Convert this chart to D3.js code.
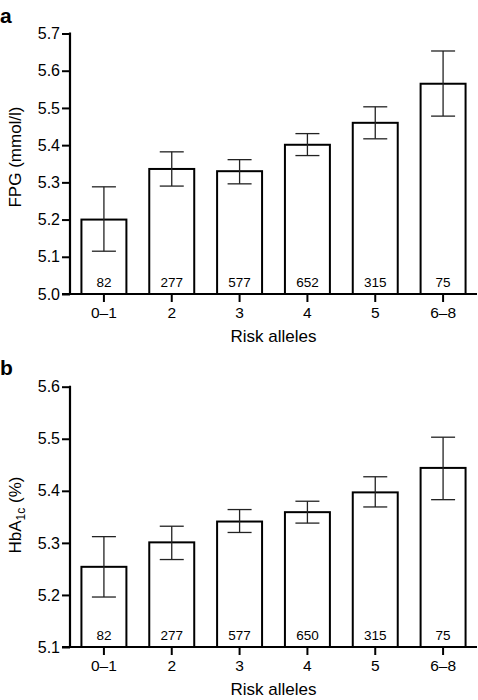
<!DOCTYPE html>
<html>
<head>
<meta charset="utf-8">
<script src="https://cdn.jsdelivr.net/npm/d3@7"></script>
<style>
  html, body { margin: 0; padding: 0; background: #fff; }
  svg { display: block; font-family: "Liberation Sans", Arial, Helvetica, sans-serif; }
</style>
</head>
<body>
<svg id="chart" width="478" height="700"></svg>
<script>
// ---- Data ----
const categories = ["0\u20131", "2", "3", "4", "5", "6\u20138"];

// Panel a: FPG (mmol/l)
const fpgMean  = [5.200, 5.336, 5.330, 5.401, 5.460, 5.565];
const fpgLow   = [5.115, 5.290, 5.296, 5.372, 5.417, 5.478];
const fpgHigh  = [5.288, 5.382, 5.361, 5.431, 5.503, 5.653];
const fpgN     = [82, 277, 577, 652, 315, 75];
const fpgTicks = [5.0, 5.1, 5.2, 5.3, 5.4, 5.5, 5.6, 5.7];

// Panel b: HbA1c (%)
const hbaMean  = [5.254, 5.301, 5.341, 5.359, 5.397, 5.444];
const hbaLow   = [5.196, 5.268, 5.320, 5.338, 5.369, 5.383];
const hbaHigh  = [5.312, 5.332, 5.364, 5.380, 5.427, 5.503];
const hbaN     = [82, 277, 577, 650, 315, 75];
const hbaTicks = [5.1, 5.2, 5.3, 5.4, 5.5, 5.6];

const xTitle = "Risk alleles";

// ---- Drawing ----
const svg = d3.select("#chart");

function panel(opts) {
  const g = svg.append("g");
  const left = 70, right = 477;
  const x = d3.scaleBand().domain(categories).range([left, right])
    .paddingInner(0.337).paddingOuter(0.1685);
  const y = d3.scaleLinear().domain(opts.domain).range([opts.bottom, opts.top]);

  const rows = categories.map((c, i) => ({
    c, mean: opts.mean[i], lo: opts.low[i], hi: opts.high[i], n: opts.n[i]
  }));

  // bars
  g.selectAll("rect.bar").data(rows).join("rect")
    .attr("class", "bar")
    .attr("x", d => x(d.c))
    .attr("width", x.bandwidth())
    .attr("y", d => y(d.mean))
    .attr("height", d => y(opts.domain[0]) - y(d.mean))
    .attr("fill", "#fff")
    .attr("stroke", "#000")
    .attr("stroke-width", 2);

  // error bars
  const capW = 24;
  const eb = g.selectAll("g.err").data(rows).join("g").attr("class", "err")
    .attr("stroke", "#222").attr("stroke-width", 1.3).attr("fill", "none");
  eb.append("line")
    .attr("x1", d => x(d.c) + x.bandwidth() / 2)
    .attr("x2", d => x(d.c) + x.bandwidth() / 2)
    .attr("y1", d => y(d.lo)).attr("y2", d => y(d.hi));
  eb.append("line")
    .attr("x1", d => x(d.c) + x.bandwidth() / 2 - capW / 2)
    .attr("x2", d => x(d.c) + x.bandwidth() / 2 + capW / 2)
    .attr("y1", d => y(d.hi)).attr("y2", d => y(d.hi));
  eb.append("line")
    .attr("x1", d => x(d.c) + x.bandwidth() / 2 - capW / 2)
    .attr("x2", d => x(d.c) + x.bandwidth() / 2 + capW / 2)
    .attr("y1", d => y(d.lo)).attr("y2", d => y(d.lo));

  // counts
  g.selectAll("text.n").data(rows).join("text")
    .attr("class", "n")
    .attr("x", d => x(d.c) + x.bandwidth() / 2)
    .attr("y", y(opts.domain[0]) - 7)
    .attr("text-anchor", "middle")
    .attr("font-size", 13.5)
    .attr("fill", "#000")
    .text(d => d.n);

  // y axis
  const yAxis = g.append("g")
    .attr("transform", `translate(${left},0)`)
    .call(d3.axisLeft(y).tickValues(opts.ticks).tickFormat(d3.format(".1f"))
      .tickSize(8).tickSizeOuter(0).tickPadding(2));
  yAxis.select(".domain").attr("stroke", "#000").attr("stroke-width", 2.2)
    .attr("d", `M0,${opts.bottom}V${opts.top - 1}`);
  yAxis.selectAll(".tick line").attr("stroke", "#000").attr("stroke-width", 2);
  yAxis.selectAll(".tick text").attr("font-size", 16).attr("fill", "#000")
    .attr("font-family", "Liberation Sans, Arial, sans-serif");

  // x axis
  const xAxis = g.append("g")
    .attr("transform", `translate(0,${opts.bottom})`)
    .call(d3.axisBottom(x).tickSize(8).tickSizeOuter(0).tickPadding(5));
  xAxis.select(".domain").attr("stroke", "#000").attr("stroke-width", 2.2)
    .attr("d", `M${left - 8},0H${right}`);
  xAxis.selectAll(".tick line").attr("stroke", "#000").attr("stroke-width", 2);
  xAxis.selectAll(".tick text").attr("font-size", 15.5).attr("fill", "#000")
    .attr("font-family", "Liberation Sans, Arial, sans-serif");

  // x title
  g.append("text")
    .attr("x", (left + right) / 2)
    .attr("y", opts.bottom + 48)
    .attr("text-anchor", "middle")
    .attr("font-size", 17)
    .attr("fill", "#000")
    .text(xTitle);

  // y title
  const yt = g.append("text")
    .attr("transform", `translate(21,${opts.yTitleCenter}) rotate(-90)`)
    .attr("text-anchor", "middle")
    .attr("font-size", 17)
    .attr("fill", "#000");
  opts.yTitle(yt);

  // panel letter
  g.append("text")
    .attr("x", 0)
    .attr("y", opts.letterY)
    .attr("font-size", 21)
    .attr("font-weight", "bold")
    .attr("fill", "#000")
    .text(opts.letter);
}

panel({
  domain: [5.0, 5.7], top: 33.5, bottom: 294,
  mean: fpgMean, low: fpgLow, high: fpgHigh, n: fpgN, ticks: fpgTicks,
  yTitleCenter: 157, letter: "a", letterY: 23,
  yTitle: t => t.text("FPG (mmol/l)")
});

panel({
  domain: [5.1, 5.6], top: 386.7, bottom: 647,
  mean: hbaMean, low: hbaLow, high: hbaHigh, n: hbaN, ticks: hbaTicks,
  yTitleCenter: 515, letter: "b", letterY: 375,
  yTitle: t => {
    t.append("tspan").text("HbA");
    t.append("tspan").attr("font-size", 12).attr("dy", 4).text("1c");
    t.append("tspan").attr("dy", -4).text(" (%)");
  }
});
</script>
</body>
</html>
